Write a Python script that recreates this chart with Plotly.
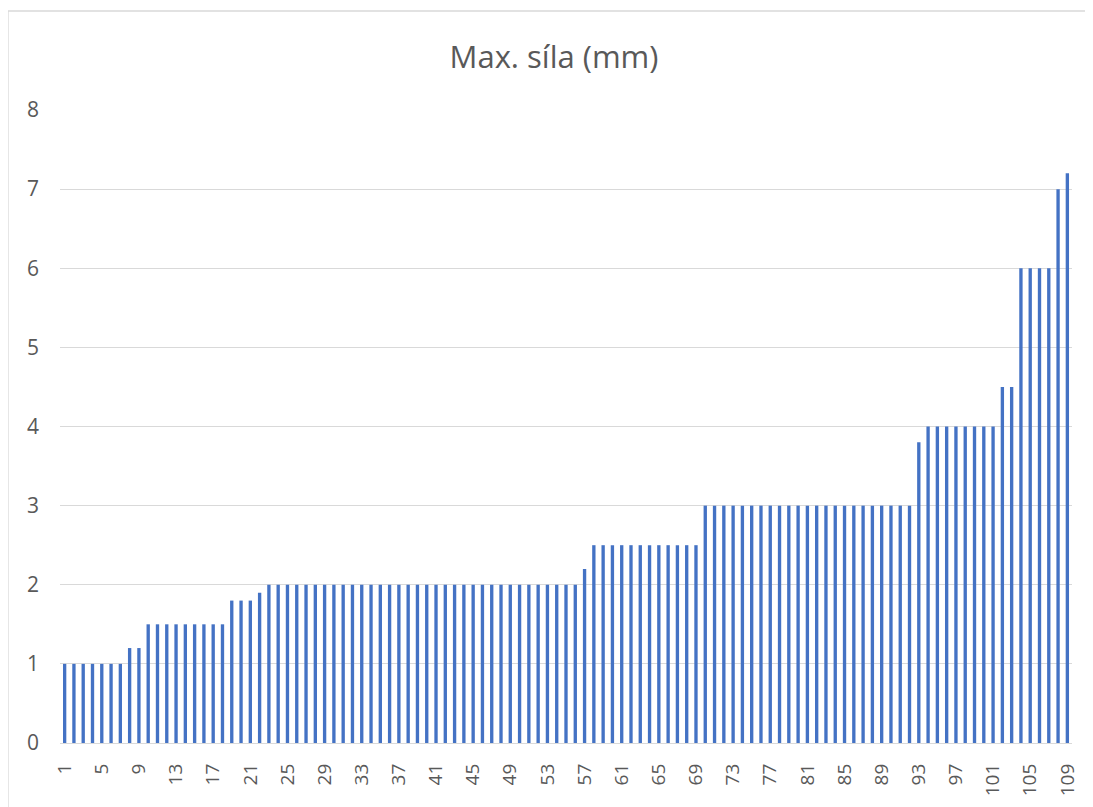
import plotly.graph_objects as go

categories = list(range(1, 110))
values = (
    [1.0] * 7 + [1.2] * 2 + [1.5] * 9 + [1.8] * 3 + [1.9] + [2.0] * 34 + [2.2]
    + [2.5] * 12 + [3.0] * 23 + [3.8] + [4.0] * 8 + [4.5] * 2 + [6.0] * 4 + [7.0] + [7.2]
)
x_tick_labels = list(range(1, 110, 4))
y_tick_labels = list(range(0, 9))

# page body has an 8px margin, so the figure is drawn at (8, 8)
OFF = 8
W, H = 1093 - OFF, 807 - OFF
L, R, T, B = 60 - OFF, 21, 110 - OFF, 64
pw, ph = W - L - R, H - T - B

fig = go.Figure(
    go.Bar(x=categories, y=values, marker=dict(color="#4472C4", line=dict(width=0)))
)

fig.update_layout(
    width=W, height=H,
    margin=dict(l=L, r=R, t=T, b=B, autoexpand=False),
    paper_bgcolor="white", plot_bgcolor="white",
    bargap=0.64,
    showlegend=False,
    font=dict(family="Open Sans, sans-serif", color="#595959"),
    title=dict(
        text="Max. síla (mm)", x=(554 - OFF) / W, xanchor="center",
        y=1 - (57 - OFF) / H, yanchor="middle", yref="container",
        font=dict(size=31, color="#595959"),
    ),
    xaxis=dict(
        range=[0.5, 109.5], tickmode="array", tickvals=x_tick_labels,
        ticktext=[str(v) for v in x_tick_labels], tickangle=-90,
        tickfont=dict(size=19, color="#595959"), showgrid=False,
        showline=True, linecolor="#D9D9D9", linewidth=1.3, ticks="",
        ticklabelstandoff=12, zeroline=False, automargin=False,
    ),
    yaxis=dict(
        range=[0, 8], tickmode="array", tickvals=y_tick_labels,
        tickfont=dict(size=21, color="#595959"), showgrid=True,
        gridcolor="#D9D9D9", gridwidth=1.3, zeroline=False, ticks="",
        ticklabelstandoff=20, automargin=False,
    ),
    shapes=[dict(
        type="rect", xref="paper", yref="paper",
        x0=(8 - 60) / pw, x1=(W + 20 - L) / pw,
        y0=-(H + 20 - T - ph) / ph, y1=(743 - 11) / ph,
        line=dict(color="#D9D9D9", width=1.3), fillcolor="rgba(0,0,0,0)", layer="below",
    )],
)

fig.write_html("out.html")
